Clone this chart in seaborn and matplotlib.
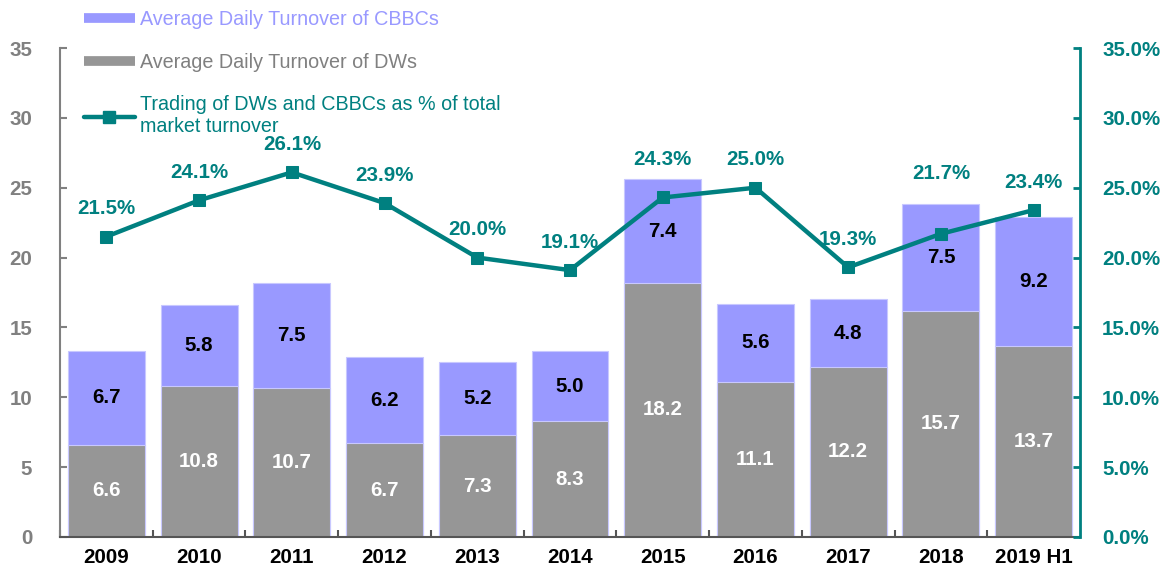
import numpy as np
import pandas as pd
import matplotlib
matplotlib.use("Agg")
import matplotlib.pyplot as plt
from matplotlib.lines import Line2D
import seaborn as sns

# data
years = ["2009", "2010", "2011", "2012", "2013", "2014", "2015", "2016", "2017", "2018", "2019 H1"]
dw = [6.6, 10.8, 10.7, 6.7, 7.3, 8.3, 18.2, 11.1, 12.2, 16.2, 13.7]
cbbc = [6.7, 5.8, 7.5, 6.2, 5.2, 5.0, 7.4, 5.6, 4.8, 7.6, 9.2]
dw_labels = ["6.6", "10.8", "10.7", "6.7", "7.3", "8.3", "18.2", "11.1", "12.2", "15.7", "13.7"]
cbbc_labels = ["6.7", "5.8", "7.5", "6.2", "5.2", "5.0", "7.4", "5.6", "4.8", "7.5", "9.2"]
share_pct = [21.5, 24.1, 26.1, 23.9, 20.0, 19.1, 24.3, 25.0, 19.3, 21.7, 23.4]

PURPLE = "#9999FF"
GREY = "#969696"
TEAL = "#008080"
AXGREY = "#808080"
FS = 14.8

sns.set_style("white")
plt.rcParams["font.family"] = ["Liberation Sans", "DejaVu Sans"]

df = pd.DataFrame({"year": years, "dw": dw, "cbbc": cbbc, "share": share_pct})
df["total"] = df["dw"] + df["cbbc"]
df["pos"] = np.arange(len(df))

fig = plt.figure(figsize=(11.71, 5.70), dpi=100)
ax = fig.add_axes([60 / 1171, 33 / 570, 1020 / 1171, 489 / 570])

sns.barplot(data=df, x="year", y="total", color=PURPLE, width=0.83,
            saturation=1, ax=ax, order=years, edgecolor="#C8C8FF", linewidth=0.8)
sns.barplot(data=df, x="year", y="dw", color=GREY, width=0.83,
            saturation=1, ax=ax, order=years, edgecolor="#C8C8FF", linewidth=0.8)

ax.set_ylim(0, 35)
ax.set_xlim(-0.5, len(years) - 0.5)
ax.set_yticks(range(0, 36, 5))
ax.set_xlabel("")
ax.set_ylabel("")

# segment labels
for i, row in df.iterrows():
    ax.text(i, row["dw"] / 2, dw_labels[i], ha="center", va="center",
            color="white", fontsize=FS, fontweight="bold")
    ax.text(i, row["dw"] + row["cbbc"] / 2, cbbc_labels[i], ha="center", va="center",
            color="black", fontsize=FS, fontweight="bold")

ax2 = ax.twinx()
sns.lineplot(data=df, x="pos", y="share", color=TEAL, lw=3.2, marker="s",
             markersize=8, markeredgecolor=TEAL, ax=ax2)
ax2.set_ylim(0, 35)
ax2.set_yticks(range(0, 36, 5))
ax2.set_yticklabels([f"{v:.1f}%" for v in range(0, 36, 5)])
ax2.set_xlabel("")
ax2.set_ylabel("")

# label offsets in pixels (a couple labels sit higher)
nudge = {6: 38, 9: 60}
for i, v in enumerate(share_pct):
    ax2.annotate(f"{v:.1f}%", (i, v), xytext=(0, nudge.get(i, 28)),
                 textcoords="offset pixels", ha="center", va="center",
                 color=TEAL, fontsize=FS, fontweight="bold")

# axes styling
for a in (ax, ax2):
    a.spines["top"].set_visible(False)
    a.grid(False)
ax.spines["right"].set_visible(False)
ax.spines["left"].set_color(AXGREY)
ax.spines["left"].set_linewidth(1.5)
ax.spines["bottom"].set_color("#555555")
ax.spines["bottom"].set_linewidth(1.5)
ax2.spines["left"].set_visible(False)
ax2.spines["bottom"].set_visible(False)
ax2.spines["right"].set_color(TEAL)
ax2.spines["right"].set_linewidth(2)

ax.tick_params(axis="y", direction="in", length=5, width=1.5, color=AXGREY,
               labelcolor=AXGREY, labelsize=FS, pad=20, left=True)
ax.tick_params(axis="x", length=0, labelsize=FS, pad=8, labelcolor="black")
ax.set_xticks(np.arange(-0.5, len(years) - 0.5), minor=True)
ax.tick_params(axis="x", which="minor", direction="in", length=5, width=1.5,
               color="#555555", bottom=True)
ax2.tick_params(axis="y", direction="in", length=5, width=2, color=TEAL,
                labelcolor=TEAL, labelsize=FS, pad=16, right=True)
for lbl in ax.get_xticklabels() + ax.get_yticklabels() + ax2.get_yticklabels():
    lbl.set_fontweight("bold")

handles = [
    Line2D([], [], color=PURPLE, lw=7, solid_capstyle="butt"),
    Line2D([], [], color=GREY, lw=7, solid_capstyle="butt"),
    Line2D([], [], color=TEAL, lw=3.2, marker="s", markersize=8),
]
labels = [
    "Average Daily Turnover of CBBCs",
    "Average Daily Turnover of DWs",
    "Trading of DWs and CBBCs as % of total\nmarket turnover",
]
leg = fig.legend(handles, labels, loc="upper left", bbox_to_anchor=(72 / 1171, 1.003),
                 frameon=False, fontsize=14.2, handlelength=2.6, handletextpad=0.25,
                 labelspacing=1.2, borderaxespad=0.2)
for txt, c in zip(leg.get_texts(), [PURPLE, AXGREY, TEAL]):
    txt.set_color(c)
    txt.set_linespacing(1.2)

fig.savefig("out.png", dpi=100)
